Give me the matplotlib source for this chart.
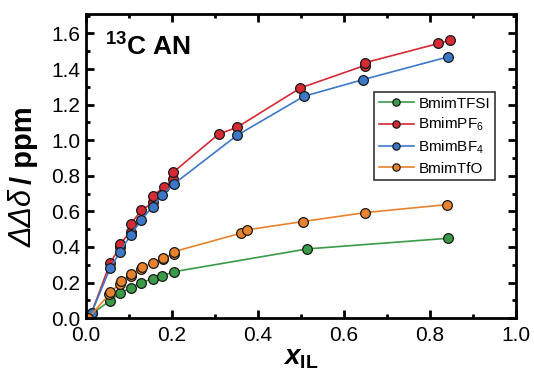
import matplotlib
matplotlib.use("Agg")
import matplotlib.pyplot as plt
from matplotlib.ticker import MultipleLocator

plt.rcParams['font.family'] = ['Liberation Sans', 'DejaVu Sans']
plt.rcParams['mathtext.fontset'] = 'custom'
plt.rcParams['mathtext.rm'] = 'Liberation Sans'
plt.rcParams['mathtext.it'] = 'Liberation Sans:italic'
plt.rcParams['mathtext.bf'] = 'Liberation Sans:bold'
plt.rcParams['mathtext.bfit'] = 'Liberation Sans:bold:italic'

# Data
tfsi_x = [0.0, 0.056, 0.079, 0.104, 0.129, 0.155, 0.178, 0.205, 0.515, 0.843]
tfsi_y = [0.0, 0.098, 0.139, 0.171, 0.199, 0.222, 0.239, 0.261, 0.389, 0.449]

pf6_x = [0.0, 0.013, 0.056, 0.079, 0.079, 0.104, 0.104, 0.129, 0.155, 0.155, 0.181,
         0.203, 0.203, 0.309, 0.351, 0.499, 0.648, 0.648, 0.820, 0.847]
pf6_y = [0.0, 0.03, 0.308, 0.400, 0.417, 0.486, 0.530, 0.605, 0.650, 0.687, 0.736,
         0.780, 0.820, 1.035, 1.072, 1.294, 1.420, 1.435, 1.544, 1.563]

bf4_x = [0.0, 0.013, 0.056, 0.080, 0.104, 0.129, 0.155, 0.178, 0.205, 0.351, 0.507, 0.645, 0.843]
bf4_y = [0.0, 0.03, 0.280, 0.374, 0.468, 0.552, 0.627, 0.693, 0.755, 1.027, 1.247, 1.341, 1.469]

tfo_x = [0.005, 0.054, 0.056, 0.079, 0.081, 0.104, 0.104, 0.129, 0.131, 0.157, 0.180,
         0.180, 0.205, 0.205, 0.360, 0.374, 0.505, 0.649, 0.839]
tfo_y = [0.0, 0.133, 0.148, 0.190, 0.210, 0.237, 0.250, 0.274, 0.285, 0.308, 0.332,
         0.340, 0.360, 0.374, 0.477, 0.496, 0.543, 0.593, 0.638]

labels = ['BmimTFSI', r'BmimPF$_6$', r'BmimBF$_4$', 'BmimTfO']
colors = ['#3a9a48', '#d42a33', '#3d78c8', '#e8822c']

xticks = [0.0, 0.2, 0.4, 0.6, 0.8, 1.0]
yticks = [0.0, 0.2, 0.4, 0.6, 0.8, 1.0, 1.2, 1.4, 1.6]

fig = plt.figure(figsize=(5.34, 3.87), dpi=100)
ax = fig.add_axes([0.161, 0.178, 0.805, 0.786])

series = [(tfsi_x, tfsi_y), (pf6_x, pf6_y), (bf4_x, bf4_y), (tfo_x, tfo_y)]
for (xs, ys), lab, c in zip(series, labels, colors):
    ax.plot(xs, ys, '-o', color=c, lw=1.2, ms=7, mfc=c, mec='#1a1a1a', mew=0.9, label=lab)

ax.set_xlim(0, 1.0)
ax.set_ylim(0, 1.71)
ax.set_xticks(xticks)
ax.set_yticks(yticks)
ax.set_xticklabels([f'{v:.1f}' for v in xticks])
ax.set_yticklabels([f'{v:.1f}' for v in yticks])
ax.xaxis.set_minor_locator(MultipleLocator(0.1))
ax.yaxis.set_minor_locator(MultipleLocator(0.1))
ax.tick_params(which='both', direction='in', top=True, right=True, width=2)
ax.tick_params(which='major', length=6, labelsize=15)
ax.tick_params(which='minor', length=3)
ax.tick_params(axis='x', which='major', pad=6)
ax.tick_params(axis='y', which='major', pad=4)
for s in ax.spines.values():
    s.set_linewidth(2)

ax.set_xlabel(r'$\boldsymbol{x}_{\mathbf{IL}}$', fontsize=20, labelpad=0)

# y label in two parts: italic ΔΔδ and bold "/ ppm"
ylab_x = 0.045
t1 = fig.text(ylab_x, 1 - 247 / 387, 'ΔΔδ', rotation=90, fontsize=22, style='italic',
              ha='center', va='bottom')
fig.canvas.draw()
bb = t1.get_window_extent(fig.canvas.get_renderer())
top_frac = bb.y1 / fig.bbox.height
fig.text(ylab_x, top_frac + 0.012, '/ ppm', rotation=90, fontsize=21, fontweight='bold',
         ha='center', va='bottom')

ax.text(0.045, 0.935, r'$^{\mathbf{13}}$C AN', transform=ax.transAxes, fontsize=19,
        fontweight='bold', va='top', ha='left')

leg = ax.legend(loc='upper left', bbox_to_anchor=(0.670, 0.743), borderaxespad=0,
                fontsize=11, frameon=True, fancybox=False, edgecolor='black',
                handlelength=2.3, handletextpad=0.3, borderpad=0.3, labelspacing=0.35,
                markerscale=0.75)
leg.get_frame().set_linewidth(1.2)

fig.savefig('out.png', dpi=100)
